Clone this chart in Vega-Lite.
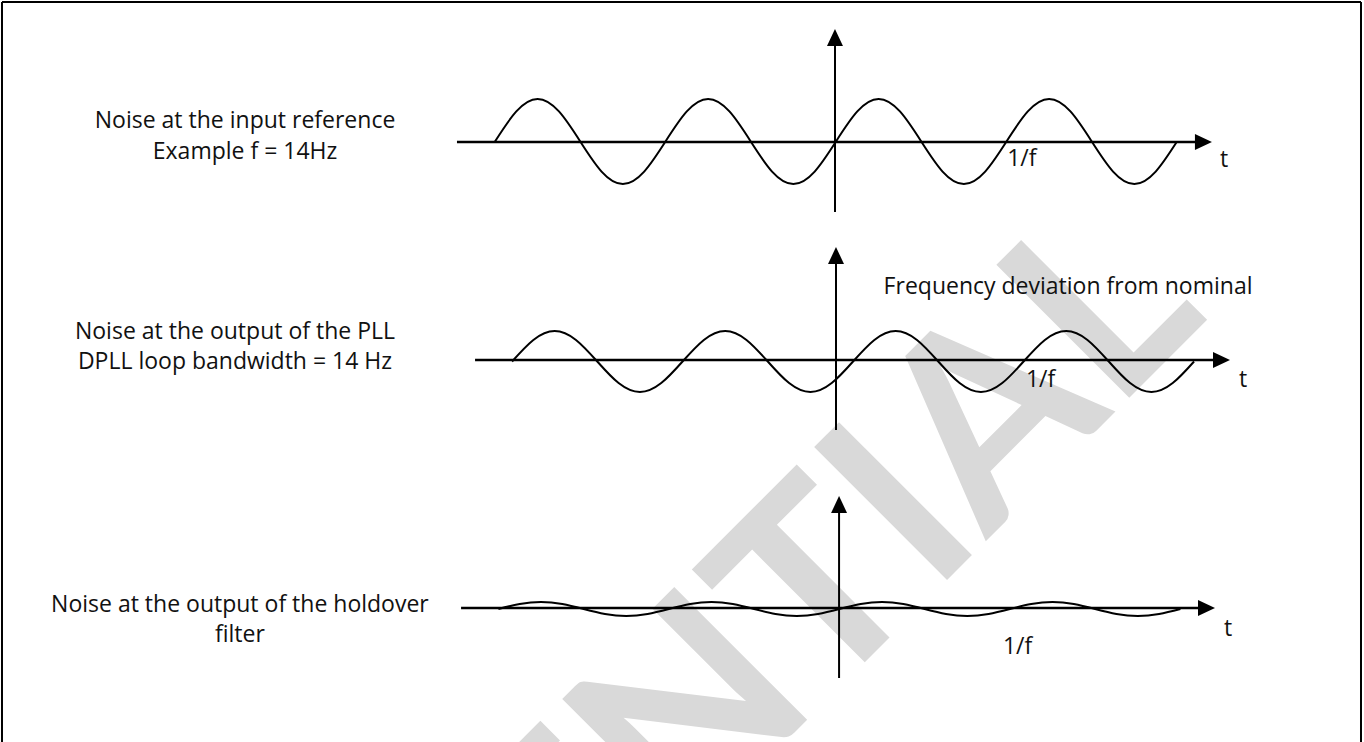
{
  "$schema": "https://vega.github.io/schema/vega-lite/v6.json",
  "width": 1364,
  "height": 742,
  "padding": 0,
  "autosize": {"type": "none"},
  "background": "white",
  "config": {"view": {"stroke": null}},
  "datasets": {
    "watermark": [{"t": 2.1935, "y": 425, "label": "CONFIDENTIAL"}],
    "borderH": [{"t1": -4.8915, "t2": 3.0792, "y": 740}],
    "borderV": [{"t": -4.8915, "y1": -20, "y2": 740}, {"t": 3.0792, "y1": -20, "y2": 740}],
    "hAxes": [{"t1": -2.223, "t2": 2.16, "y": 600}, {"t1": -2.117, "t2": 2.26, "y": 382}, {"t1": -2.199, "t2": 2.175, "y": 134}],
    "vAxes": [{"t": -0.006, "y1": 530, "y2": 705}, {"t": 0, "y1": 312, "y2": 487}, {"t": 0.018, "y1": 64, "y2": 238}],
    "arrowsRight": [{"t": 2.155, "y": 600}, {"t": 2.261, "y": 382}, {"t": 2.173, "y": 134}],
    "arrowsUp": [{"t": -0.006, "y": 704.5}, {"t": 0, "y": 486.5}, {"t": 0.018, "y": 237.5}],
    "labels": [
      {"t": -3.466, "y": 621, "label": "Noise at the input reference"},
      {"t": -3.466, "y": 590, "label": "Example f = 14Hz"},
      {"t": -3.525, "y": 410, "label": "Noise at the output of the PLL"},
      {"t": -3.525, "y": 380, "label": "DPLL loop bandwidth = 14 Hz"},
      {"t": -3.496, "y": 137, "label": "Noise at the output of the holdover"},
      {"t": -3.496, "y": 107, "label": "filter"},
      {"t": 1.09, "y": 583, "label": "1/f"},
      {"t": 2.276, "y": 582, "label": "t"},
      {"t": 1.361, "y": 455, "label": "Frequency deviation from nominal"},
      {"t": 1.2, "y": 362, "label": "1/f"},
      {"t": 2.387, "y": 362, "label": "t"},
      {"t": 1.065, "y": 95, "label": "1/f"},
      {"t": 2.299, "y": 113, "label": "t"}
    ],
    "waves": [
      {"p": 1, "t": -2, "y": 600.5}, {"p": 1, "t": -1.875, "y": 630.55}, {"p": 1, "t": -1.75, "y": 643}, {"p": 1, "t": -1.625, "y": 630.55},
      {"p": 1, "t": -1.5, "y": 600.5}, {"p": 1, "t": -1.375, "y": 570.45}, {"p": 1, "t": -1.25, "y": 558}, {"p": 1, "t": -1.125, "y": 570.45},
      {"p": 1, "t": -1, "y": 600.5}, {"p": 1, "t": -0.875, "y": 630.55}, {"p": 1, "t": -0.75, "y": 643}, {"p": 1, "t": -0.625, "y": 630.55},
      {"p": 1, "t": -0.5, "y": 600.5}, {"p": 1, "t": -0.375, "y": 570.45}, {"p": 1, "t": -0.25, "y": 558}, {"p": 1, "t": -0.125, "y": 570.45},
      {"p": 1, "t": 0, "y": 600.5}, {"p": 1, "t": 0.125, "y": 630.55}, {"p": 1, "t": 0.25, "y": 643}, {"p": 1, "t": 0.375, "y": 630.55},
      {"p": 1, "t": 0.5, "y": 600.5}, {"p": 1, "t": 0.625, "y": 570.45}, {"p": 1, "t": 0.75, "y": 558}, {"p": 1, "t": 0.875, "y": 570.45},
      {"p": 1, "t": 1, "y": 600.5}, {"p": 1, "t": 1.125, "y": 630.55}, {"p": 1, "t": 1.25, "y": 643}, {"p": 1, "t": 1.375, "y": 630.55},
      {"p": 1, "t": 1.5, "y": 600.5}, {"p": 1, "t": 1.625, "y": 570.45}, {"p": 1, "t": 1.75, "y": 558}, {"p": 1, "t": 1.875, "y": 570.45},
      {"p": 1, "t": 2, "y": 600.5},
      {"p": 2, "t": -1.9, "y": 380.5}, {"p": 2, "t": -1.775, "y": 402.07}, {"p": 2, "t": -1.65, "y": 411}, {"p": 2, "t": -1.525, "y": 402.07},
      {"p": 2, "t": -1.4, "y": 380.5}, {"p": 2, "t": -1.275, "y": 358.93}, {"p": 2, "t": -1.15, "y": 350}, {"p": 2, "t": -1.025, "y": 358.93},
      {"p": 2, "t": -0.9, "y": 380.5}, {"p": 2, "t": -0.775, "y": 402.07}, {"p": 2, "t": -0.65, "y": 411}, {"p": 2, "t": -0.525, "y": 402.07},
      {"p": 2, "t": -0.4, "y": 380.5}, {"p": 2, "t": -0.275, "y": 358.93}, {"p": 2, "t": -0.15, "y": 350}, {"p": 2, "t": -0.025, "y": 358.93},
      {"p": 2, "t": 0.1, "y": 380.5}, {"p": 2, "t": 0.225, "y": 402.07}, {"p": 2, "t": 0.35, "y": 411}, {"p": 2, "t": 0.475, "y": 402.07},
      {"p": 2, "t": 0.6, "y": 380.5}, {"p": 2, "t": 0.725, "y": 358.93}, {"p": 2, "t": 0.85, "y": 350}, {"p": 2, "t": 0.975, "y": 358.93},
      {"p": 2, "t": 1.1, "y": 380.5}, {"p": 2, "t": 1.225, "y": 402.07}, {"p": 2, "t": 1.35, "y": 411}, {"p": 2, "t": 1.475, "y": 402.07},
      {"p": 2, "t": 1.6, "y": 380.5}, {"p": 2, "t": 1.725, "y": 358.93}, {"p": 2, "t": 1.85, "y": 350}, {"p": 2, "t": 1.975, "y": 358.93},
      {"p": 2, "t": 2.1, "y": 380.5},
      {"p": 3, "t": -1.98, "y": 133}, {"p": 3, "t": -1.855, "y": 137.95}, {"p": 3, "t": -1.73, "y": 140}, {"p": 3, "t": -1.605, "y": 137.95},
      {"p": 3, "t": -1.48, "y": 133}, {"p": 3, "t": -1.355, "y": 128.05}, {"p": 3, "t": -1.23, "y": 126}, {"p": 3, "t": -1.105, "y": 128.05},
      {"p": 3, "t": -0.98, "y": 133}, {"p": 3, "t": -0.855, "y": 137.95}, {"p": 3, "t": -0.73, "y": 140}, {"p": 3, "t": -0.605, "y": 137.95},
      {"p": 3, "t": -0.48, "y": 133}, {"p": 3, "t": -0.355, "y": 128.05}, {"p": 3, "t": -0.23, "y": 126}, {"p": 3, "t": -0.105, "y": 128.05},
      {"p": 3, "t": 0.02, "y": 133}, {"p": 3, "t": 0.145, "y": 137.95}, {"p": 3, "t": 0.27, "y": 140}, {"p": 3, "t": 0.395, "y": 137.95},
      {"p": 3, "t": 0.52, "y": 133}, {"p": 3, "t": 0.645, "y": 128.05}, {"p": 3, "t": 0.77, "y": 126}, {"p": 3, "t": 0.895, "y": 128.05},
      {"p": 3, "t": 1.02, "y": 133}, {"p": 3, "t": 1.145, "y": 137.95}, {"p": 3, "t": 1.27, "y": 140}, {"p": 3, "t": 1.395, "y": 137.95},
      {"p": 3, "t": 1.52, "y": 133}, {"p": 3, "t": 1.645, "y": 128.05}, {"p": 3, "t": 1.77, "y": 126}, {"p": 3, "t": 1.895, "y": 128.05},
      {"p": 3, "t": 2.02, "y": 133}
    ]
  },
  "layer": [
    {
      "data": {"name": "watermark"},
      "mark": {"type": "text", "font": "Lato", "fontWeight": "bold", "fontSize": 260, "angle": -45, "align": "right", "baseline": "alphabetic", "color": "#d9d9d9"},
      "encoding": {
        "x": {"field": "t", "type": "quantitative", "scale": {"domain": [-4.9032, 3.0968], "nice": false, "zero": false}, "axis": null},
        "y": {"field": "y", "type": "quantitative", "scale": {"domain": [0, 742], "nice": false, "zero": false}, "axis": null},
        "text": {"field": "label"}
      }
    },
    {
      "data": {"name": "borderH"},
      "mark": {"type": "rule", "color": "black", "strokeWidth": 2},
      "encoding": {
        "x": {"field": "t1", "type": "quantitative", "scale": {"domain": [-4.9032, 3.0968], "nice": false, "zero": false}, "axis": null},
        "x2": {"field": "t2"},
        "y": {"field": "y", "type": "quantitative", "scale": {"domain": [0, 742], "nice": false, "zero": false}, "axis": null}
      }
    },
    {
      "data": {"name": "borderV"},
      "mark": {"type": "rule", "color": "black", "strokeWidth": 2},
      "encoding": {
        "x": {"field": "t", "type": "quantitative", "scale": {"domain": [-4.9032, 3.0968], "nice": false, "zero": false}, "axis": null},
        "y": {"field": "y1", "type": "quantitative", "scale": {"domain": [0, 742], "nice": false, "zero": false}, "axis": null},
        "y2": {"field": "y2"}
      }
    },
    {
      "data": {"name": "hAxes"},
      "mark": {"type": "rule", "color": "black", "strokeWidth": 2.3},
      "encoding": {
        "x": {"field": "t1", "type": "quantitative", "scale": {"domain": [-4.9032, 3.0968], "nice": false, "zero": false}, "axis": null},
        "x2": {"field": "t2"},
        "y": {"field": "y", "type": "quantitative", "scale": {"domain": [0, 742], "nice": false, "zero": false}, "axis": null}
      }
    },
    {
      "data": {"name": "vAxes"},
      "mark": {"type": "rule", "color": "black", "strokeWidth": 2},
      "encoding": {
        "x": {"field": "t", "type": "quantitative", "scale": {"domain": [-4.9032, 3.0968], "nice": false, "zero": false}, "axis": null},
        "y": {"field": "y1", "type": "quantitative", "scale": {"domain": [0, 742], "nice": false, "zero": false}, "axis": null},
        "y2": {"field": "y2"}
      }
    },
    {
      "data": {"name": "waves"},
      "mark": {"type": "line", "color": "black", "strokeWidth": 2, "interpolate": "natural"},
      "encoding": {
        "x": {"field": "t", "type": "quantitative", "scale": {"domain": [-4.9032, 3.0968], "nice": false, "zero": false}, "axis": null},
        "y": {"field": "y", "type": "quantitative", "scale": {"domain": [0, 742], "nice": false, "zero": false}, "axis": null},
        "detail": {"field": "p", "type": "nominal"}
      }
    },
    {
      "data": {"name": "arrowsRight"},
      "mark": {"type": "point", "filled": true, "opacity": 1, "color": "black", "strokeWidth": 0, "shape": "M -1 -0.94 L 1 0 L -1 0.94 Z", "size": 289},
      "encoding": {
        "x": {"field": "t", "type": "quantitative", "scale": {"domain": [-4.9032, 3.0968], "nice": false, "zero": false}, "axis": null},
        "y": {"field": "y", "type": "quantitative", "scale": {"domain": [0, 742], "nice": false, "zero": false}, "axis": null}
      }
    },
    {
      "data": {"name": "arrowsUp"},
      "mark": {"type": "point", "filled": true, "opacity": 1, "color": "black", "strokeWidth": 0, "shape": "M -0.94 1 L 0 -1 L 0.94 1 Z", "size": 289},
      "encoding": {
        "x": {"field": "t", "type": "quantitative", "scale": {"domain": [-4.9032, 3.0968], "nice": false, "zero": false}, "axis": null},
        "y": {"field": "y", "type": "quantitative", "scale": {"domain": [0, 742], "nice": false, "zero": false}, "axis": null}
      }
    },
    {
      "data": {"name": "labels"},
      "mark": {"type": "text", "font": "Open Sans", "fontSize": 23, "align": "center", "baseline": "middle", "color": "#111111"},
      "encoding": {
        "x": {"field": "t", "type": "quantitative", "scale": {"domain": [-4.9032, 3.0968], "nice": false, "zero": false}, "axis": null},
        "y": {"field": "y", "type": "quantitative", "scale": {"domain": [0, 742], "nice": false, "zero": false}, "axis": null},
        "text": {"field": "label"}
      }
    }
  ]
}
